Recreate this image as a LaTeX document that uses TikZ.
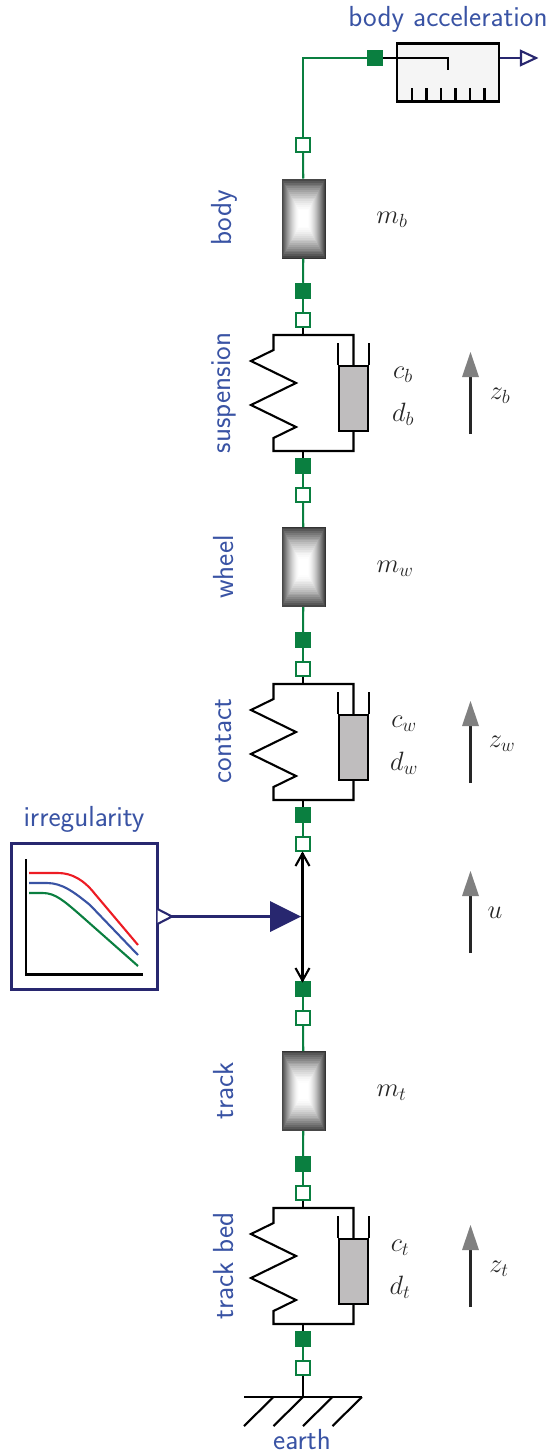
\documentclass[tikz,border=0pt]{standalone}
\usepackage{fix-cm}
\usepackage{fontspec}
\DeclareMathSizes{26.5}{26.5}{19}{14}
\usetikzlibrary{calc}
\definecolor{mgreen}{HTML}{0A7F40}
\definecolor{mnavy}{HTML}{28276F}
\definecolor{mblue}{HTML}{3953A4}
\definecolor{mgray}{HTML}{BFBDBE}
\definecolor{mred}{HTML}{ED1C24}
\tikzset{
  bl/.style={line width=2.1pt,black,line join=miter},
  gr/.style={line width=2.1pt,mgreen},
  nv/.style={line width=2.1pt,mnavy},
  portopen/.style={draw=mgreen,fill=white,line width=2.1pt,minimum size=13.5pt,inner sep=0pt,rectangle},
  portsolid/.style={draw=mgreen,fill=mgreen,line width=1pt,minimum size=15.5pt,inner sep=0pt,rectangle},
  massbox/.style={rectangle,minimum width=43pt,minimum height=79pt,inner sep=0pt,draw=black!80,line width=1pt},
  lab/.style={text=mblue,font=\sffamily\fontsize{29}{29}\selectfont,inner sep=0pt},
  vlab/.style={lab,rotate=90},
  mathlab/.style={text=black!85,font=\fontsize{26.5}{26.5}\selectfont,inner sep=0pt},
  zarrow/.style={line width=2.1pt,black!85},
  zhead/.style={fill=black!50,draw=none},
}
\newcommand{\massat}[2]{%
  \node[massbox] (#1) at #2 {};
  \foreach \i in {0,...,17}{
    \pgfmathsetmacro{\g}{100-72*((17-\i)/17)^1.6}
    \pgfmathsetmacro{\dx}{0.5+\i}
    \pgfmathsetmacro{\dy}{0.5+1.85*\i}
    \fill[white!\g!black] ($(#1.north west)+(\dx,\dy)$) rectangle ($(#1.south east)+(-\dx,-\dy)$);
  }
}
% #1 name, #2 y of the top bar
\newcommand{\springdamper}[2]{%
  \coordinate (#1top) at (303,#2);
  \coordinate (#1bot) at (303,#2+116);
  \draw[bl] (353.5,#2+31) -- (353.5,#2) -- (273.5,#2) -- (273.5,#2+15) -- (251,#2+26) -- (296,#2+48) -- (251,#2+70) -- (296,#2+92) -- (273.5,#2+103) -- (273.5,#2+116) -- (353.5,#2+116) -- (353.5,#2+97);
  \node[rectangle,draw=black,fill=mgray,line width=2.1pt,minimum width=29.5pt,minimum height=64.5pt,inner sep=0pt] (#1d) at (353.5,#2+63.5) {};
  \draw[bl] (#1d.north west) -- ++(0,-22);
  \draw[bl] (#1d.north east) -- ++(0,-22);
}
% #1 name, #2 x, #3 tip y
\newcommand{\zarrowat}[3]{%
  \coordinate (#1tip) at (#2,#3);
  \coordinate (#1tail) at (#2,#3+82);
  \draw[zarrow] (#1tail) -- (#2,#3+25);
  \fill[zhead] (#1tip) -- (#2+8.5,#3+25) -- (#2-8.5,#3+25) -- cycle;
}
\begin{document}
\begin{tikzpicture}[x=1pt,y=-1pt]
\useasboundingbox (0,0) rectangle (550,1454);
% masses
\massat{mb}{(303.5,218.5)}
\massat{mw}{(303.5,567)}
\massat{mt}{(303.5,1091)}
% spring-dampers
\springdamper{sb}{335}
\springdamper{sw}{684}
\springdamper{st}{1208}
% ports
\foreach \n/\y in {oa/145,ob/320,oc/495,od/669,oe/844,of/1018,og/1193,oh/1368}
  \node[portopen] (\n) at (303,\y) {};
\foreach \n/\y in {sa/291,sc/466,sd/640,se/815,sf/989,sg/1164,sh/1339}
  \node[portsolid] (\n) at (303,\y) {};
\node[portsolid] (sens) at (375,58) {};
\coordinate (corner) at (303,58);
\coordinate (joint) at (303,916.5);
\coordinate (gnd) at (303,1397);
% green connectors
\draw[gr] (sens) -- (corner) -- (oa);
\draw[gr] (oa) -- (mb);
\draw[gr] (mb) -- (sa);
\draw[gr] (sa) -- (ob);
\draw[gr] (sc) -- (oc);
\draw[gr] (oc) -- (mw);
\draw[gr] (mw) -- (sd);
\draw[gr] (sd) -- (od);
\draw[gr] (se) -- (oe);
\draw[gr] (sf) -- (of);
\draw[gr] (of) -- (mt);
\draw[gr] (mt) -- (sg);
\draw[gr] (sg) -- (og);
\draw[gr] (sh) -- (oh);
% black connectors
\draw[bl] (ob) -- (sbtop);
\draw[bl] (sbbot) -- (sc);
\draw[bl] (od) -- (swtop);
\draw[bl] (swbot) -- (se);
\draw[bl] (og) -- (sttop);
\draw[bl] (stbot) -- (sh);
\draw[bl] (oh) -- (gnd);
% ground
\coordinate (gl) at (244,1397);
\coordinate (grr) at (362,1397);
\draw[bl] (gl) -- (grr);
\foreach \x in {273.5,303,332.5,362}
  \draw[bl] (\x,1397) -- (\x-29.5,1426);
% sensor
\node[rectangle,draw=black,fill=black!4,line width=2.1pt,minimum width=102pt,minimum height=58pt,inner sep=0pt] (acc) at (448,72.5) {};
\draw[bl] (sens) -- (448,58) -- (448,69.5);
\foreach \x in {412,426.5,441,455.5,470,484.5}
  \draw[bl] (\x,88) -- (\x,101);
\coordinate (accout) at (521,58);
\draw[nv] (acc.east |- accout) -- (accout);
\draw[nv,fill=white,line join=miter] (521,51) -- (536,58) -- (521,65) -- cycle;
% irregularity
\node[rectangle,draw=mnavy,fill=white,line width=2.1pt,minimum width=146pt,minimum height=146pt,inner sep=0pt] (irr) at (84.5,916.5) {};
\draw[bl] (26,859) -- (26,974.5) -- (142.5,974.5);
\draw[line width=2.1pt,mred] (29,873) -- (58,873) .. controls (72,873) and (84,880) .. (95,894) -- (138,945);
\draw[line width=2.1pt,mblue] (29,883) -- (47,883) .. controls (62,883) and (74,892) .. (90,905) -- (138,955);
\draw[line width=2.1pt,mgreen] (29,893) -- (43,893) .. controls (55,893) and (64,901) .. (78,913) -- (138,966);
\coordinate (irrout) at (172,916.5);
\draw[nv,fill=white,line join=miter] (157.5,909) -- (172,916.5) -- (157.5,924);
\coordinate (big) at (270,916.5);
\draw[nv] (irrout) -- (big);
\fill[mnavy] (270,901) -- (301,916.5) -- (270,932) -- cycle;
% relative motion arrow
\draw[bl] (302.5,853) -- (302.5,981);
\draw[bl,line join=miter] (295.5,866) -- (302.5,853.5) -- (309.5,866);
\draw[bl,line join=miter] (295.5,968) -- (302.5,980.5) -- (309.5,968);
% z arrows
\zarrowat{zb}{470.5}{352}
\zarrowat{zw}{470.5}{701}
\zarrowat{zu}{470.5}{871}
\zarrowat{zt}{470.5}{1225}
% labels
\node[lab] (lacc) at (448,19.5) {body acceleration};
\node[lab] (lirr) at (84,819) {irregularity};
\node[lab] (lear) at (302,1439.5) {earth};
\node[vlab] (l1) at (224.5,218) {body};
\node[vlab] (l2) at (223.5,393) {suspension};
\node[vlab] (l3) at (223.5,567) {wheel};
\node[vlab] (l4) at (223.5,741) {contact};
\node[vlab] (l5) at (223.5,1091) {track};
\node[vlab] (l6) at (223.5,1266) {track bed};
\node[mathlab] (t1) at (392,220) {$m_b$};
\node[mathlab] (t2) at (395,569) {$m_w$};
\node[mathlab] (t3) at (391.5,1093) {$m_t$};
\node[mathlab] (t4) at (403,375) {$c_b$};
\node[mathlab] (t5) at (403,414) {$d_b$};
\node[mathlab] (t6) at (404,724) {$c_w$};
\node[mathlab] (t7) at (404,763) {$d_w$};
\node[mathlab] (t8) at (400,1248) {$c_t$};
\node[mathlab] (t9) at (400,1287) {$d_t$};
\node[mathlab] (t10) at (500,396) {$z_b$};
\node[mathlab] (t11) at (502,744) {$z_w$};
\node[mathlab] (t12) at (495,913) {$u$};
\node[mathlab] (t13) at (499,1269) {$z_t$};
\end{tikzpicture}
\end{document}
